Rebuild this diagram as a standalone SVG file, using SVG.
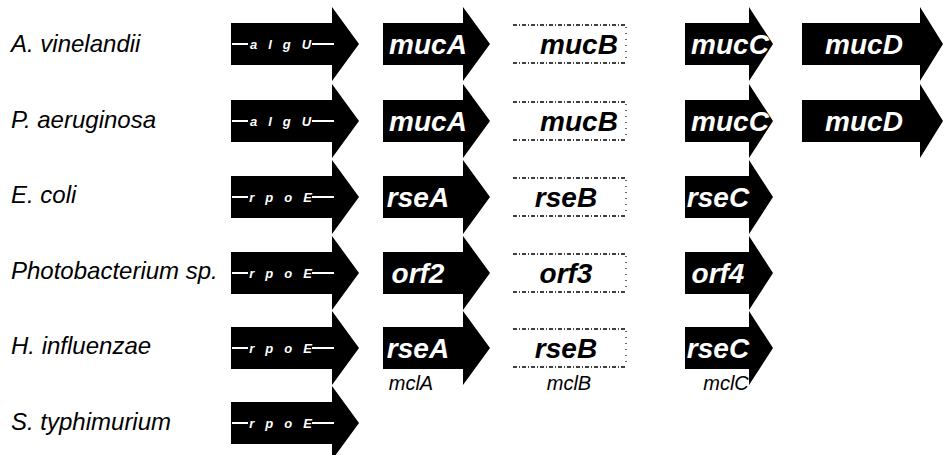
<svg xmlns="http://www.w3.org/2000/svg" width="944" height="455" viewBox="0 0 944 455">
<style>
.sp{font-family:"Liberation Sans",Arial,sans-serif;font-style:italic;font-size:24px;fill:#000}
.gene{fill:#000}
.gl{font-family:"Liberation Sans",Arial,sans-serif;font-style:italic;font-weight:bold;font-size:28px;fill:#fff;text-anchor:middle}
.gb{font-family:"Liberation Sans",Arial,sans-serif;font-style:italic;font-weight:bold;font-size:28px;fill:#000;text-anchor:middle}
.g1{font-family:"Liberation Sans",Arial,sans-serif;font-style:italic;font-weight:bold;font-size:13px;fill:#fff;text-anchor:middle;letter-spacing:11px}
.stripe{fill:#fff}
.box{fill:none;stroke:#000;stroke-width:1.6;stroke-dasharray:4 2 1 2}
.side{fill:none;stroke:#000;stroke-width:1.2;stroke-dasharray:1 5}
.mcl{font-family:"Liberation Sans",Arial,sans-serif;font-style:italic;font-size:20px;fill:#000;text-anchor:middle}
</style>
<rect width="944" height="455" fill="#fff"/>
<g id="labels">
<text class="sp" x="11" y="52">A. vinelandii</text>
<text class="sp" x="11" y="128">P. aeruginosa</text>
<text class="sp" x="11" y="203">E. coli</text>
<text class="sp" x="11" y="279">Photobacterium sp.</text>
<text class="sp" x="11" y="354">H. influenzae</text>
<text class="sp" x="11" y="430">S. typhimurium</text>
</g>
<g id="row1">
<g id="r1-algU"><polygon class="gene" points="231,23 332,23 332,7 359,44 332,81 332,65 231,65"/><rect class="stripe" x="232" y="43" width="16" height="2"/><rect class="stripe" x="312" y="43" width="22" height="2"/><text class="g1" x="286" y="49">algU</text></g>
<g id="r1-mucA"><polygon class="gene" points="383,23 463,23 463,7 490,44 463,81 463,65 383,65"/><text class="gl" x="428" y="54">mucA</text></g>
<g id="r1-mucB"><path class="box" d="M513,25H626M513,63H626"/><path class="side" d="M626,27V61"/><text class="gb" x="579" y="54">mucB</text></g>
<g id="r1-mucC"><polygon class="gene" points="685,23 749,23 749,7 773,44 749,81 749,65 685,65"/><text class="gl" x="730" y="54">mucC</text></g>
<g id="r1-mucD"><polygon class="gene" points="802,23 920,23 920,7 943,44 920,81 920,65 802,65"/><text class="gl" x="864" y="54">mucD</text></g>
</g>
<g id="row2">
<g id="r2-algU"><polygon class="gene" points="231,100 332,100 332,84 359,121 332,158 332,142 231,142"/><rect class="stripe" x="232" y="120" width="16" height="2"/><rect class="stripe" x="312" y="120" width="22" height="2"/><text class="g1" x="286" y="126">algU</text></g>
<g id="r2-mucA"><polygon class="gene" points="383,100 463,100 463,84 490,121 463,158 463,142 383,142"/><text class="gl" x="428" y="131">mucA</text></g>
<g id="r2-mucB"><path class="box" d="M513,102H626M513,140H626"/><path class="side" d="M626,104V138"/><text class="gb" x="579" y="131">mucB</text></g>
<g id="r2-mucC"><polygon class="gene" points="685,100 749,100 749,84 773,121 749,158 749,142 685,142"/><text class="gl" x="730" y="131">mucC</text></g>
<g id="r2-mucD"><polygon class="gene" points="802,100 920,100 920,84 943,121 920,158 920,142 802,142"/><text class="gl" x="864" y="131">mucD</text></g>
</g>
<g id="row3">
<g id="r3-rpoE"><polygon class="gene" points="231,176 332,176 332,160 359,197 332,234 332,218 231,218"/><rect class="stripe" x="232" y="196" width="16" height="2"/><rect class="stripe" x="312" y="196" width="22" height="2"/><text class="g1" x="286" y="202">rpoE</text></g>
<g id="r3-rseA"><polygon class="gene" points="383,176 463,176 463,160 490,197 463,234 463,218 383,218"/><text class="gl" x="418" y="207">rseA</text></g>
<g id="r3-rseB"><path class="box" d="M513,178H626M513,216H626"/><path class="side" d="M626,180V214"/><text class="gb" x="566" y="207">rseB</text></g>
<g id="r3-rseC"><polygon class="gene" points="685,176 749,176 749,160 773,197 749,234 749,218 685,218"/><text class="gl" x="718" y="207">rseC</text></g>
</g>
<g id="row4">
<g id="r4-rpoE"><polygon class="gene" points="231,252 332,252 332,236 359,273 332,310 332,294 231,294"/><rect class="stripe" x="232" y="272" width="16" height="2"/><rect class="stripe" x="312" y="272" width="22" height="2"/><text class="g1" x="286" y="278">rpoE</text></g>
<g id="r4-orf2"><polygon class="gene" points="383,252 463,252 463,236 490,273 463,310 463,294 383,294"/><text class="gl" x="418" y="283">orf2</text></g>
<g id="r4-orf3"><path class="box" d="M513,254H626M513,292H626"/><path class="side" d="M626,256V290"/><text class="gb" x="566" y="283">orf3</text></g>
<g id="r4-orf4"><polygon class="gene" points="685,252 749,252 749,236 773,273 749,310 749,294 685,294"/><text class="gl" x="718" y="283">orf4</text></g>
</g>
<g id="row5">
<g id="r5-rpoE"><polygon class="gene" points="231,327 332,327 332,311 359,348 332,385 332,369 231,369"/><rect class="stripe" x="232" y="347" width="16" height="2"/><rect class="stripe" x="312" y="347" width="22" height="2"/><text class="g1" x="286" y="353">rpoE</text></g>
<g id="r5-rseA"><polygon class="gene" points="383,327 463,327 463,311 490,348 463,385 463,369 383,369"/><text class="gl" x="418" y="358">rseA</text></g>
<g id="r5-rseB"><path class="box" d="M513,329H626M513,367H626"/><path class="side" d="M626,331V365"/><text class="gb" x="566" y="358">rseB</text></g>
<g id="r5-rseC"><polygon class="gene" points="685,327 749,327 749,311 773,348 749,385 749,369 685,369"/><text class="gl" x="718" y="358">rseC</text></g>
</g>
<g id="row6">
<g id="r6-rpoE"><polygon class="gene" points="231,402 332,402 332,386 359,423 332,460 332,444 231,444"/><rect class="stripe" x="232" y="422" width="16" height="2"/><rect class="stripe" x="312" y="422" width="22" height="2"/><text class="g1" x="286" y="428">rpoE</text></g>
</g>
<g id="mcl">
<text class="mcl" x="411" y="390">mclA</text>
<text class="mcl" x="569" y="390">mclB</text>
<text class="mcl" x="726" y="390">mclC</text>
</g>
<g id="connectors"/>
</svg>
